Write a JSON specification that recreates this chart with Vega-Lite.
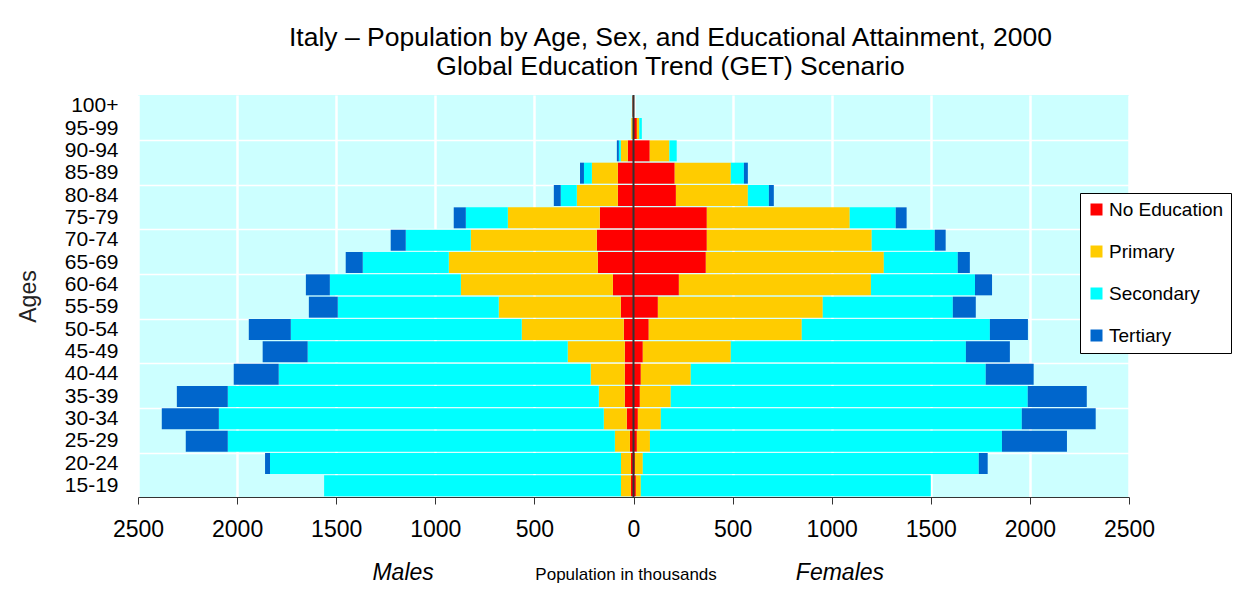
{
  "$schema": "https://vega.github.io/schema/vega-lite/v6.json",
  "width": 991,
  "height": 402,
  "autosize": {"type": "none"},
  "padding": {"left": 138, "top": 95, "right": 107, "bottom": 94},
  "background": "white",
  "config": {
    "font": "Liberation Sans",
    "view": {"fill": "#CCFFFF", "stroke": null}
  },
  "title": {
    "text": ["Italy – Population by Age, Sex, and Educational Attainment, 2000", "Global Education Trend (GET) Scenario"],
    "fontSize": 26.5,
    "fontWeight": "normal",
    "font": "Liberation Sans",
    "lineHeight": 29,
    "offset": 14,
    "anchor": "middle",
    "frame": "group",
    "dx": 37,
    "color": "black"
  },
  "data": {
    "values": [
      {"a":"100+","s":"M","e":"No Education","v":5},{"a":"100+","s":"M","e":"Primary","v":1},{"a":"100+","s":"M","e":"Secondary","v":0},{"a":"100+","s":"M","e":"Tertiary","v":0},
      {"a":"95-99","s":"M","e":"No Education","v":4},{"a":"95-99","s":"M","e":"Primary","v":7},{"a":"95-99","s":"M","e":"Secondary","v":0},{"a":"95-99","s":"M","e":"Tertiary","v":0},
      {"a":"90-94","s":"M","e":"No Education","v":29},{"a":"90-94","s":"M","e":"Primary","v":35},{"a":"90-94","s":"M","e":"Secondary","v":10},{"a":"90-94","s":"M","e":"Tertiary","v":10},
      {"a":"85-89","s":"M","e":"No Education","v":79},{"a":"85-89","s":"M","e":"Primary","v":131},{"a":"85-89","s":"M","e":"Secondary","v":40},{"a":"85-89","s":"M","e":"Tertiary","v":20},
      {"a":"80-84","s":"M","e":"No Education","v":79},{"a":"80-84","s":"M","e":"Primary","v":207},{"a":"80-84","s":"M","e":"Secondary","v":81},{"a":"80-84","s":"M","e":"Tertiary","v":35},
      {"a":"75-79","s":"M","e":"No Education","v":170},{"a":"75-79","s":"M","e":"Primary","v":464},{"a":"75-79","s":"M","e":"Secondary","v":212},{"a":"75-79","s":"M","e":"Tertiary","v":61},
      {"a":"70-74","s":"M","e":"No Education","v":185},{"a":"70-74","s":"M","e":"Primary","v":636},{"a":"70-74","s":"M","e":"Secondary","v":328},{"a":"70-74","s":"M","e":"Tertiary","v":76},
      {"a":"65-69","s":"M","e":"No Education","v":180},{"a":"65-69","s":"M","e":"Primary","v":752},{"a":"65-69","s":"M","e":"Secondary","v":434},{"a":"65-69","s":"M","e":"Tertiary","v":86},
      {"a":"60-64","s":"M","e":"No Education","v":104},{"a":"60-64","s":"M","e":"Primary","v":767},{"a":"60-64","s":"M","e":"Secondary","v":661},{"a":"60-64","s":"M","e":"Tertiary","v":121},
      {"a":"55-59","s":"M","e":"No Education","v":64},{"a":"55-59","s":"M","e":"Primary","v":616},{"a":"55-59","s":"M","e":"Secondary","v":812},{"a":"55-59","s":"M","e":"Tertiary","v":146},
      {"a":"50-54","s":"M","e":"No Education","v":49},{"a":"50-54","s":"M","e":"Primary","v":515},{"a":"50-54","s":"M","e":"Secondary","v":1165},{"a":"50-54","s":"M","e":"Tertiary","v":212},
      {"a":"45-49","s":"M","e":"No Education","v":44},{"a":"45-49","s":"M","e":"Primary","v":288},{"a":"45-49","s":"M","e":"Secondary","v":1312},{"a":"45-49","s":"M","e":"Tertiary","v":227},
      {"a":"40-44","s":"M","e":"No Education","v":44},{"a":"40-44","s":"M","e":"Primary","v":172},{"a":"40-44","s":"M","e":"Secondary","v":1574},{"a":"40-44","s":"M","e":"Tertiary","v":227},
      {"a":"35-39","s":"M","e":"No Education","v":44},{"a":"35-39","s":"M","e":"Primary","v":131},{"a":"35-39","s":"M","e":"Secondary","v":1872},{"a":"35-39","s":"M","e":"Tertiary","v":257},
      {"a":"30-34","s":"M","e":"No Education","v":34},{"a":"30-34","s":"M","e":"Primary","v":116},{"a":"30-34","s":"M","e":"Secondary","v":1942},{"a":"30-34","s":"M","e":"Tertiary","v":288},
      {"a":"25-29","s":"M","e":"No Education","v":18},{"a":"25-29","s":"M","e":"Primary","v":76},{"a":"25-29","s":"M","e":"Secondary","v":1953},{"a":"25-29","s":"M","e":"Tertiary","v":212},
      {"a":"20-24","s":"M","e":"No Education","v":13},{"a":"20-24","s":"M","e":"Primary","v":50},{"a":"20-24","s":"M","e":"Secondary","v":1771},{"a":"20-24","s":"M","e":"Tertiary","v":25},
      {"a":"15-19","s":"M","e":"No Education","v":13},{"a":"15-19","s":"M","e":"Primary","v":50},{"a":"15-19","s":"M","e":"Secondary","v":1498},{"a":"15-19","s":"M","e":"Tertiary","v":0},
      {"a":"100+","s":"F","e":"No Education","v":3},{"a":"100+","s":"F","e":"Primary","v":0},{"a":"100+","s":"F","e":"Secondary","v":0},{"a":"100+","s":"F","e":"Tertiary","v":0},
      {"a":"95-99","s":"F","e":"No Education","v":17},{"a":"95-99","s":"F","e":"Primary","v":12},{"a":"95-99","s":"F","e":"Secondary","v":13},{"a":"95-99","s":"F","e":"Tertiary","v":0},
      {"a":"90-94","s":"F","e":"No Education","v":82},{"a":"90-94","s":"F","e":"Primary","v":99},{"a":"90-94","s":"F","e":"Secondary","v":37},{"a":"90-94","s":"F","e":"Tertiary","v":0},
      {"a":"85-89","s":"F","e":"No Education","v":208},{"a":"85-89","s":"F","e":"Primary","v":283},{"a":"85-89","s":"F","e":"Secondary","v":66},{"a":"85-89","s":"F","e":"Tertiary","v":20},
      {"a":"80-84","s":"F","e":"No Education","v":214},{"a":"80-84","s":"F","e":"Primary","v":363},{"a":"80-84","s":"F","e":"Secondary","v":106},{"a":"80-84","s":"F","e":"Tertiary","v":25},
      {"a":"75-79","s":"F","e":"No Education","v":370},{"a":"75-79","s":"F","e":"Primary","v":721},{"a":"75-79","s":"F","e":"Secondary","v":232},{"a":"75-79","s":"F","e":"Tertiary","v":55},
      {"a":"70-74","s":"F","e":"No Education","v":370},{"a":"70-74","s":"F","e":"Primary","v":832},{"a":"70-74","s":"F","e":"Secondary","v":318},{"a":"70-74","s":"F","e":"Tertiary","v":55},
      {"a":"65-69","s":"F","e":"No Education","v":365},{"a":"65-69","s":"F","e":"Primary","v":898},{"a":"65-69","s":"F","e":"Secondary","v":373},{"a":"65-69","s":"F","e":"Tertiary","v":61},
      {"a":"60-64","s":"F","e":"No Education","v":229},{"a":"60-64","s":"F","e":"Primary","v":969},{"a":"60-64","s":"F","e":"Secondary","v":525},{"a":"60-64","s":"F","e":"Tertiary","v":86},
      {"a":"55-59","s":"F","e":"No Education","v":123},{"a":"55-59","s":"F","e":"Primary","v":832},{"a":"55-59","s":"F","e":"Secondary","v":656},{"a":"55-59","s":"F","e":"Tertiary","v":116},
      {"a":"50-54","s":"F","e":"No Education","v":77},{"a":"50-54","s":"F","e":"Primary","v":772},{"a":"50-54","s":"F","e":"Secondary","v":949},{"a":"50-54","s":"F","e":"Tertiary","v":192},
      {"a":"45-49","s":"F","e":"No Education","v":47},{"a":"45-49","s":"F","e":"Primary","v":444},{"a":"45-49","s":"F","e":"Secondary","v":1186},{"a":"45-49","s":"F","e":"Tertiary","v":222},
      {"a":"40-44","s":"F","e":"No Education","v":37},{"a":"40-44","s":"F","e":"Primary","v":252},{"a":"40-44","s":"F","e":"Secondary","v":1488},{"a":"40-44","s":"F","e":"Tertiary","v":242},
      {"a":"35-39","s":"F","e":"No Education","v":32},{"a":"35-39","s":"F","e":"Primary","v":156},{"a":"35-39","s":"F","e":"Secondary","v":1801},{"a":"35-39","s":"F","e":"Tertiary","v":298},
      {"a":"30-34","s":"F","e":"No Education","v":22},{"a":"30-34","s":"F","e":"Primary","v":116},{"a":"30-34","s":"F","e":"Secondary","v":1821},{"a":"30-34","s":"F","e":"Tertiary","v":373},
      {"a":"25-29","s":"F","e":"No Education","v":17},{"a":"25-29","s":"F","e":"Primary","v":66},{"a":"25-29","s":"F","e":"Secondary","v":1776},{"a":"25-29","s":"F","e":"Tertiary","v":328},
      {"a":"20-24","s":"F","e":"No Education","v":7},{"a":"20-24","s":"F","e":"Primary","v":40},{"a":"20-24","s":"F","e":"Secondary","v":1695},{"a":"20-24","s":"F","e":"Tertiary","v":45},
      {"a":"15-19","s":"F","e":"No Education","v":12},{"a":"15-19","s":"F","e":"Primary","v":25},{"a":"15-19","s":"F","e":"Secondary","v":1463},{"a":"15-19","s":"F","e":"Tertiary","v":0}
    ]
  },
  "layer": [
    {
      "transform": [
        {"calculate": "datum.s == 'M' ? -datum.v : datum.v", "as": "x"},
        {"calculate": "indexof(['No Education','Primary','Secondary','Tertiary'], datum.e)", "as": "o"}
      ],
      "mark": {"type": "bar"},
      "encoding": {
        "y": {
          "field": "a",
          "type": "nominal",
          "sort": ["100+","95-99","90-94","85-89","80-84","75-79","70-74","65-69","60-64","55-59","50-54","45-49","40-44","35-39","30-34","25-29","20-24","15-19"],
          "scale": {"paddingInner": 0.06, "paddingOuter": 0.03},
          "axis": {
            "title": "Ages",
            "titleFontSize": 23,
            "titleFontWeight": "normal",
            "titleColor": "#222",
            "titlePadding": 24,
            "labelFontSize": 21,
            "labelColor": "black",
            "labelPadding": 20,
            "ticks": false,
            "domain": false,
            "grid": true,
            "bandPosition": 0,
            "gridColor": "white",
            "gridWidth": 1.5,
            "gridOpacity": {"condition": {"test": "indexof(['90-94','80-84','70-74','60-64','50-54','40-44','30-34','20-24'], datum.value) >= 0", "value": 1}, "value": 0}
          }
        },
        "x": {
          "field": "x",
          "type": "quantitative",
          "stack": "zero",
          "scale": {"domain": [-2500, 2500], "nice": false, "zero": true},
          "axis": {
            "values": [-2500, -2000, -1500, -1000, -500, 0, 500, 1000, 1500, 2000, 2500],
            "labelExpr": "format(abs(datum.value), 'd')",
            "labelFontSize": 23,
            "labelColor": "black",
            "labelPadding": 14,
            "labelFlush": false,
            "labelOverlap": false,
            "tickSize": 7,
            "tickColor": "#333",
            "domainColor": "#333",
            "grid": true,
            "gridColor": "white",
            "gridWidth": 2.5,
            "title": null
          }
        },
        "color": {
          "field": "e",
          "type": "nominal",
          "scale": {
            "domain": ["No Education", "Primary", "Secondary", "Tertiary"],
            "range": ["#FF0000", "#FFCC00", "#00FFFF", "#0066CC"]
          },
          "legend": {
            "title": null,
            "orient": "none",
            "legendX": 942,
            "legendY": 98,
            "strokeColor": "black",
            "fillColor": "white",
            "padding": 7,
            "symbolType": "square",
            "symbolSize": 144,
            "symbolStrokeWidth": 0,
            "labelFontSize": 19,
            "labelColor": "black",
            "labelOffset": 3,
            "rowPadding": 22,
            "labelLimit": 200
          }
        },
        "order": {"field": "o", "type": "quantitative"}
      }
    },
    {
      "data": {"values": [{"z": 0}]},
      "mark": {"type": "rule", "color": "#333", "strokeWidth": 2},
      "encoding": {
        "x": {
          "field": "z",
          "type": "quantitative",
          "axis": {
            "orient": "bottom",
            "values": [-1165, -40, 1039],
            "labelExpr": "datum.value < -500 ? 'Males' : (datum.value > 500 ? 'Females' : 'Population in thousands')",
            "labelFontSize": {"condition": {"test": "abs(datum.value) < 500", "value": 17}, "value": 23},
            "labelFontStyle": {"condition": {"test": "abs(datum.value) < 500", "value": "normal"}, "value": "italic"},
            "labelColor": "black",
            "labelBaseline": "alphabetic",
            "labelPadding": 82,
            "labelLimit": 400,
            "labelFlush": false,
            "labelOverlap": false,
            "domain": false,
            "ticks": false,
            "grid": false,
            "title": null
          }
        }
      }
    }
  ],
  "resolve": {"axis": {"x": "independent"}}
}
